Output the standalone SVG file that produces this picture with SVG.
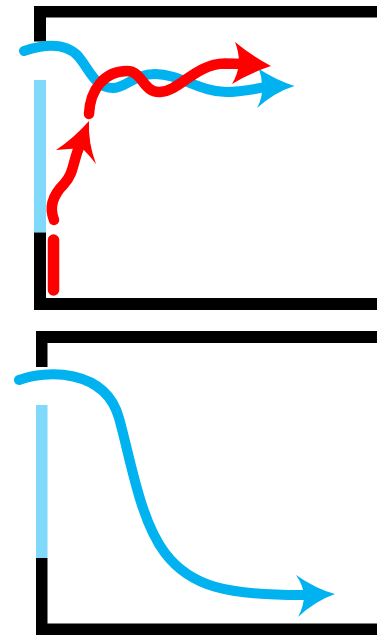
<svg xmlns="http://www.w3.org/2000/svg" width="377" height="636" viewBox="0 0 377 636">
<style>
.wall{fill:#000}
.glass{fill:#80d8fb}
.line{fill:none;stroke-linecap:round;stroke-linejoin:round}
.blue{stroke:#00b2f0}
.red{stroke:#f00}
.hb{fill:#00b2f0}
.hr{fill:#f00}
</style>
<rect width="377" height="636" fill="#fff"/>
<g id="top-frame">
<path class="wall" d="M34 6H377V17.500H46V41.500H34Z"/>
<rect class="glass" x="34" y="80" width="12" height="152.500"/>
<path class="wall" d="M34 232.500H46V298H377V310H34Z"/>
</g>
<g id="bottom-frame">
<path class="wall" d="M36 331H377V343H47.500V367H36Z"/>
<rect class="glass" x="36" y="405" width="11.500" height="153"/>
<path class="wall" d="M36 558H47.500V623.500H377V635H36Z"/>
</g>
<g id="connectors">
<path class="line blue" stroke-width="10" d="M24 51C45 44 65 42 78 56C90 70 95 88 113 88C125 88 135 74 155 74C180 74 200 92 226 92C240 92 250 90 266 87"/>
<path class="hb" d="M294.500 86Q275 92 257 108Q263 97 262 86Q262 77 259 69Q276 80 294.500 86Z"/>
<path class="line red" stroke-width="10.500" d="M89 114C90 90 104 71 127 71C143 71 143 93 160 92C180 91 195 64 225 63.500L244 64"/>
<path class="hr" d="M271 66Q250 73 232 84Q238 74 239 63Q239 52 235 42Q252 56 271 66Z"/>
<path class="line red" stroke-width="10.500" d="M54 220C48 205 55 193 64 184C74 174 73 160 80 145"/>
<path class="hr" d="M89 121Q88 143 96 164Q89 155 82 148Q69 149 56 150Q74 138 89 121Z"/>
<path class="line red" stroke-width="11.500" d="M53.500 240V290"/>
<path class="line blue" stroke-width="10" d="M19 380C45 370 105 368 119 418C131 461 140 520 165 553C190 586 225 596 310 595"/>
<path class="hb" d="M335 594Q315 601 298 617Q304 606 304 595Q303 585 296 575Q316 589 335 594Z"/>
</g>
</svg>
